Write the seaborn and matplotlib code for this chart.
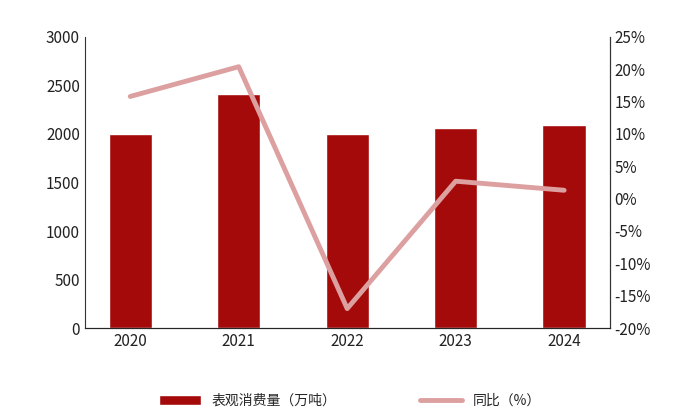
import matplotlib
matplotlib.use("Agg")
import matplotlib.pyplot as plt
import seaborn as sns
import pandas as pd

years = ["2020", "2021", "2022", "2023", "2024"]
consumption = [2000, 2410, 2000, 2060, 2090]
yoy = [15.8, 20.4, -17.0, 2.7, 1.3]

sns.set_style("white")
plt.rcParams['font.family'] = ['Noto Sans CJK SC', 'DejaVu Sans']

df = pd.DataFrame({"year": years, "consumption": consumption, "yoy": yoy})

fig = plt.figure(figsize=(7, 4.2), dpi=100)
ax = fig.add_axes([0.121, 0.219, 0.75, 0.693])
bar_color = "#A50A0A"
line_color = "#DDA0A0"
sns.barplot(data=df, x="year", y="consumption", color=bar_color, width=0.4, ax=ax,
            saturation=1, label="表观消费量（万吨）")
ax.set_ylim(0, 3000)
ax.set_yticks(range(0, 3001, 500))
ax.set_xlabel("")
ax.set_ylabel("")
ax.spines["top"].set_visible(False)
for s in ["left", "bottom"]:
    ax.spines[s].set_color("#333333")

ax2 = ax.twinx()
sns.lineplot(x=list(range(len(years))), y=yoy, color=line_color, linewidth=3.5, ax=ax2,
             label="同比（%）", legend=False)
ax2.set_ylim(-20, 25)
ax2.set_yticks(range(-20, 26, 5))
ax2.set_yticklabels([f"{v}%" for v in range(-20, 26, 5)])
ax2.spines["top"].set_visible(False)
ax2.spines["right"].set_color("#333333")
ax2.spines["left"].set_visible(False)

for a in (ax, ax2):
    a.tick_params(labelsize=11, colors="#222222", length=0)

if ax.get_legend():
    ax.get_legend().remove()
h1, l1 = ax.get_legend_handles_labels()
h2, l2 = ax2.get_legend_handles_labels()
fig.legend(h1 + h2, l1 + l2, loc="lower center", bbox_to_anchor=(0.5, 0.0), ncol=2,
           frameon=False, fontsize=10, columnspacing=6, handlelength=3)

fig.savefig("out.png", dpi=100)
